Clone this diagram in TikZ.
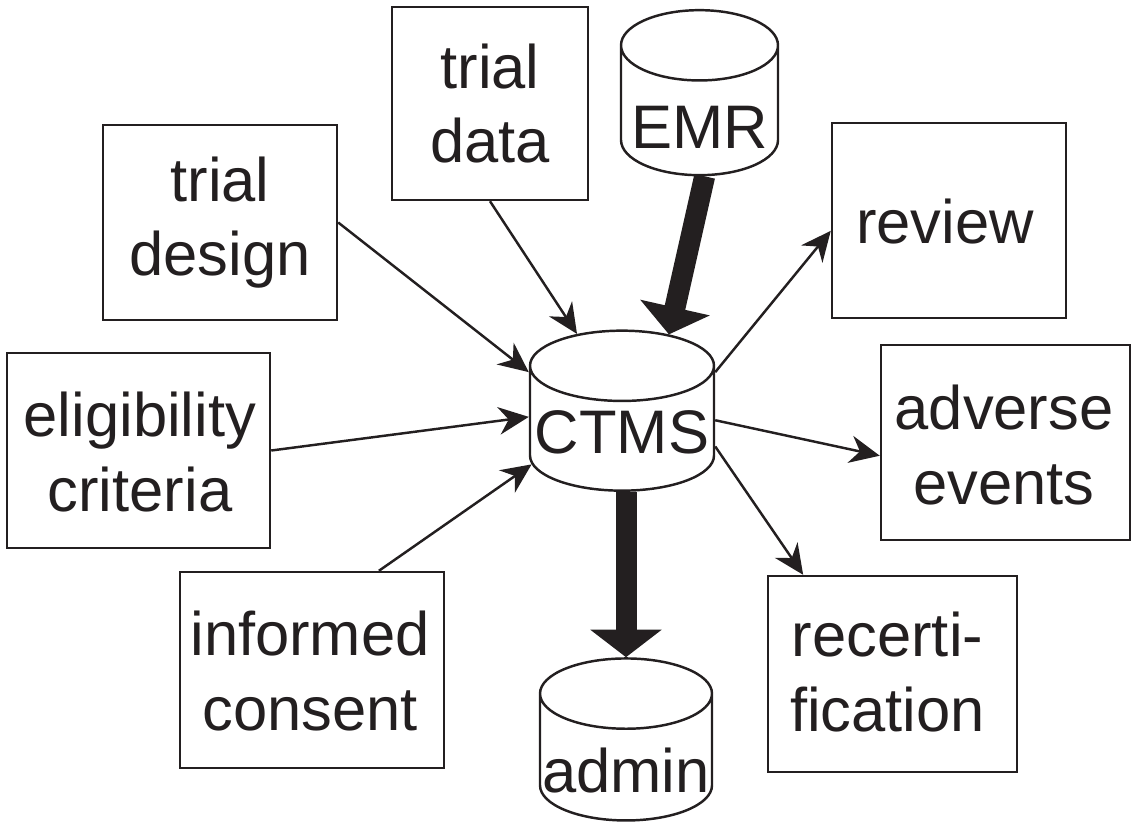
\documentclass[tikz,border=0pt]{standalone}
\usepackage{fontspec}
\setmainfont{Liberation Sans}
\usetikzlibrary{shapes.geometric,arrows.meta}
\definecolor{ink}{RGB}{35,31,32}

\begin{document}
\begin{tikzpicture}[color=ink, line width=1.4pt,
    box/.style={rectangle, draw, minimum width=4.68cm, minimum height=3.9cm},
    can/.style={cylinder, shape border rotate=90, aspect=6.0, draw},
    flow/.style={-{Stealth[length=0.6cm, width=0.55cm]}},
    bigflow/.style={line width=0.42cm, -{Triangle[length=0.55cm, width=1.4cm]}},
    every node/.style={font=\fontsize{35}{42.5}\selectfont, align=center}]
    \useasboundingbox (0, 0) rectangle (22.64, -16.5);

    \node[box] (design) at (4.4, -4.45) {};
    \node[box, minimum width=3.92cm, minimum height=3.86cm] (data) at (9.8, -2.07) {};
    \node[can, minimum width=3.14cm, minimum height=3.3cm] (emr) at (13.99, -2.35) {};
    \node[box] (review) at (18.98, -4.41) {};
    \node[box, minimum width=5.26cm] (elig) at (2.77, -9.01) {};
    \node[can, minimum width=3.68cm, minimum height=3.2cm] (ctms) at (12.44, -8.7) {};
    \node[box, minimum width=4.98cm] (adverse) at (20.11, -8.85) {};
    \node[box, minimum width=5.28cm, minimum height=3.92cm] (consent) at (6.24, -13.4) {};
    \node[can, minimum width=3.44cm, minimum height=3.24cm] (admin) at (12.52, -15.28) {};
    \node[box, minimum width=4.98cm, minimum height=3.92cm] (recert) at (17.85, -13.48) {};

    % 矢印
    \draw[flow] (design.east) -- (ctms.146);
    \draw[flow] (data.south) -- (ctms.114);
    \draw[flow] (elig.east) -- (ctms.169);
    \draw[flow] (consent.56) -- (ctms.198);
    \draw[bigflow] (emr.-85) -- (ctms.65);
    \draw[flow] (ctms.34) -- (review.185);
    \draw[flow] (ctms.9) -- (adverse.186);
    \draw[flow] (ctms.-7) -- (recert.132);
    \draw[bigflow] (ctms.south -| admin.north) -- (admin.north);

    % 文字
    \node (designT) at (4.4, -4.45) {trial\\design};
    \node (dataT) at (9.8, -2.07) {trial\\data};
    \node (emrT) at (13.99, -2.54) {EMR};
    \node (reviewT) at (18.9, -4.44) {review};
    \node (eligT) at (2.8, -9.04) {eligibility\\criteria};
    \node (ctmsT) at (12.44, -8.64) {CTMS};
    \node (adverseT) at (20.08, -8.9) {adverse\\events};
    \node (consentT) at (6.2, -13.42) {informed\\consent};
    \node (adminT) at (12.52, -15.4) {admin};
    \node (recertT) at (17.75, -13.44) {recerti-\\fication};

\end{tikzpicture}
\end{document}
